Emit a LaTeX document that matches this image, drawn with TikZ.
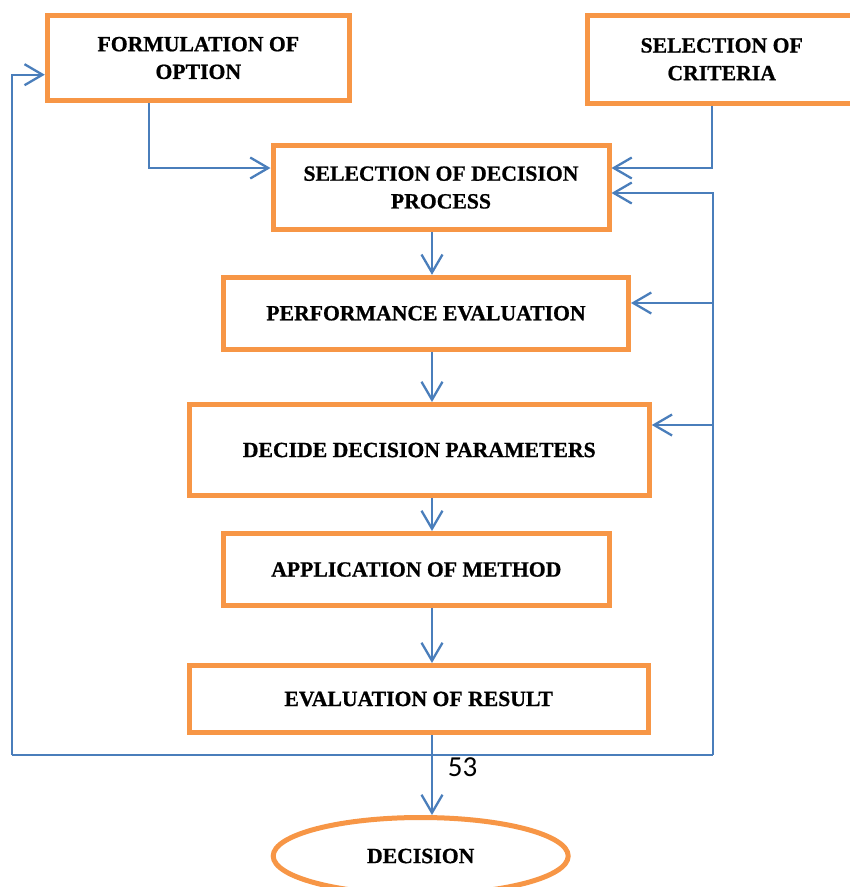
\documentclass[tikz,border=0pt]{standalone}
\usepackage{fontspec}
\setmainfont{Liberation Serif}[BoldFeatures={FakeBold=0.8}]
\newfontfamily\pagefont{Carlito}
\usetikzlibrary{arrows.meta,shapes.geometric}
\definecolor{boxorange}{HTML}{F79646}
\definecolor{linkblue}{HTML}{4A7EBB}
\begin{document}
\begin{tikzpicture}[x=1pt, y=-1pt,
        stage/.style={draw=boxorange, line width=5pt, fill=white, align=center, inner sep=0pt, font=\fontsize{21.7}{27.7}\selectfont\bfseries},
        flow/.style={draw=linkblue, line width=2.3pt, -{Straight Barb[length=18pt, width=21pt]}}]
    \useasboundingbox (0,0) rectangle (850,887);
    \clip (0,0) rectangle (850,887);

        \node[stage, minimum width=302pt, minimum height=85pt] (opt) at (198.3,58) {FORMULATION OF\\OPTION};
        \node[stage, minimum width=268pt, minimum height=88pt] (crit) at (721.7,59.3) {SELECTION OF\\CRITERIA};
        \node[stage, minimum width=336pt, minimum height=84pt] (proc) at (441,187.5) {SELECTION OF DECISION\\PROCESS};
        \node[stage, minimum width=405pt, minimum height=72pt] (perf) at (426,313.3) {PERFORMANCE EVALUATION};
        \node[stage, minimum width=460pt, minimum height=91pt] (param) at (419.3,450) {DECIDE DECISION PARAMETERS};
        \node[stage, minimum width=386pt, minimum height=72pt] (meth) at (416.3,569.5) {APPLICATION OF METHOD};
        \node[stage, minimum width=459pt, minimum height=67pt] (res) at (418.7,699) {EVALUATION OF RESULT};
        \node[stage, ellipse, minimum width=295pt, minimum height=77pt] (dec) at (420.7,856) {DECISION};
        \node[font=\pagefont\fontsize{29}{29}\selectfont, inner sep=0pt] (num) at (462.5,767.5) {53};

        \coordinate (spine) at (432,0);
        \coordinate (loopL) at (12.3,755);
        \coordinate (loopR) at (713.3,755);

        \draw[flow] ([xshift=-49.3pt]opt.south) |- ([yshift=19.5pt]proc.west);
        \draw[flow] ([xshift=-10pt]crit.south) |- ([yshift=19.5pt]proc.east);
        \draw[flow] (proc.south -| spine) -- (perf.north -| spine);
        \draw[flow] (perf.south -| spine) -- (param.north -| spine);
        \draw[flow] (param.south -| spine) -- (meth.north -| spine);
        \draw[flow] (meth.south -| spine) -- (res.north -| spine);
        \draw[flow] (res.south -| spine) -- (dec.north -| spine);

        \draw[flow, -] (loopL) -- (loopR);
        \draw[flow] (loopL) |- ([yshift=-16.7pt]opt.west);
        \draw[flow] (loopR) |- ([yshift=-5.5pt]proc.east);
        \draw[flow] ([yshift=10.3pt]perf.east -| loopR) -- ([yshift=10.3pt]perf.east);
        \draw[flow] ([yshift=25pt]param.east -| loopR) -- ([yshift=25pt]param.east);
    \end{tikzpicture}
\end{document}
